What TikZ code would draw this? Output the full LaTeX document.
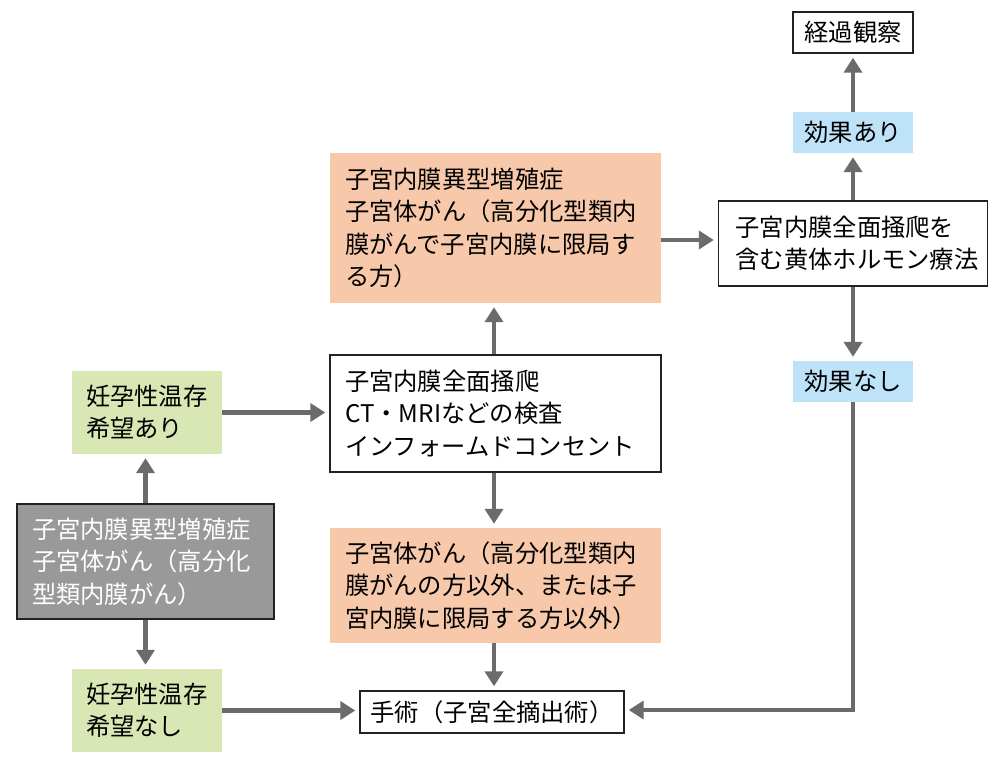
\documentclass[tikz,border=0pt]{standalone}
\usepackage{fontspec}
\setmainfont{Noto Sans CJK JP}
\usetikzlibrary{arrows.meta}
\definecolor{orangef}{HTML}{F7C9AA}
\definecolor{greenf}{HTML}{D9E7B4}
\definecolor{bluef}{HTML}{BEE3F8}
\definecolor{grayf}{HTML}{999999}
\definecolor{arrowc}{HTML}{6B6B6B}
\definecolor{borderc}{HTML}{222222}
\begin{document}
\begin{tikzpicture}[x=1pt,y=-1pt,
  base/.style={inner ysep=0pt, font=\fontsize{24.3}{32.5}\selectfont},
  wbox/.style={base, draw=borderc, line width=1.4pt, fill=white},
  obox/.style={base, fill=orangef},
  gbox/.style={base, fill=greenf},
  bbox/.style={base, fill=bluef},
  dbox/.style={base, draw=borderc, line width=1.4pt, fill=grayf, text=white},
  lt/.style 2 args={align=left, text width=#1, inner xsep=#2},
  arr/.style={draw=arrowc, line width=4.5pt, -{Triangle[width=18pt,length=15pt]}, shorten >=4pt}
]
\fill[white] (0,0) rectangle (1000,766);
\useasboundingbox (0,0) rectangle (1000,766);

% right column
\node[wbox, align=center, minimum width=120pt, minimum height=41pt] (keika) at (853,32.5) {経過観察};
\node[bbox, align=center, minimum width=120pt, minimum height=41pt] (ari) at (853,132.5) {効果あり};
\node[wbox, lt={235pt}{17pt}, minimum height=85pt] (ther) at (853,243.5) {子宮内膜全面掻爬を\\含む黄体ホルモン療法};
\node[bbox, align=center, minimum width=120pt, minimum height=41pt] (nashi) at (853,381.5) {効果なし};

% center column
\node[obox, lt={301pt}{15pt}, minimum height=150pt] (or1) at (495.5,228) {子宮内膜異型増殖症\\子宮体がん（高分化型類内\\膜がんで子宮内膜に限局す\\る方）};
\node[wbox, lt={301pt}{15pt}, minimum height=117pt] (mid) at (495.5,413.5) {子宮内膜全面掻爬\\CT・MRIなどの検査\\インフォームドコンセント};
\node[obox, lt={301pt}{15pt}, minimum height=115pt] (or2) at (495.5,585.5) {子宮体がん（高分化型類内\\膜がんの方以外、または子\\宮内膜に限局する方以外）};
\node[wbox, align=center, minimum width=264pt, minimum height=42pt] (ope) at (492,712) {手術（子宮全摘出術）};

% left column
\node[gbox, lt={122pt}{14pt}, minimum height=83pt] (g1) at (147,412.5) {妊孕性温存\\希望あり};
\node[dbox, lt={227pt}{15pt}, minimum height=115pt] (dx) at (145.5,561.5) {子宮内膜異型増殖症\\子宮体がん（高分化\\型類内膜がん）};
\node[gbox, lt={122pt}{14pt}, minimum height=83pt] (g2) at (147,710.5) {妊孕性温存\\希望なし};

% arrows
\draw[arr] (ari.north) -- (keika.south);
\draw[arr] (ther.north) -- (ari.south);
\draw[arr] (ther.south) -- (nashi.north);
\draw[arr] (nashi.south) |- ([yshift=2pt]ope.east);
\draw[arr] ([yshift=3.5pt]ther.west -| or1.east) -- ([yshift=3.5pt]ther.west);
\draw[arr] ([xshift=-1.5pt]mid.north) -- ([xshift=-1.5pt]or1.south);
\draw[arr] ([xshift=-1.5pt]mid.south) -- ([xshift=-1.5pt]or2.north);
\draw[arr] ([xshift=-1.5pt]or2.south) -- ([xshift=-1.5pt]or2.south |- ope.north);
\draw[arr] (g1.east) -- (g1.east -| mid.west);
\draw[arr] (dx.north) -- (g1.south -| dx.north);
\draw[arr] (dx.south) -- (g2.north -| dx.south);
\draw[arr] (g2.east) -- (g2.east -| ope.west);
\end{tikzpicture}
\end{document}
